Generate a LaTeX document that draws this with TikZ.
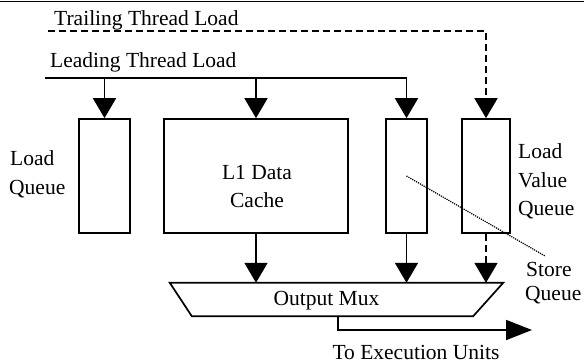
\documentclass[tikz,border=0pt]{standalone}
\usepackage{fontspec}
\setmainfont{Liberation Serif}
\usetikzlibrary{arrows.meta}
\tikzset{
  unitbox/.style={draw,line width=1.7pt,inner sep=0pt,minimum height=114pt},
  lbl/.style={inner sep=0pt,font=\fontsize{21.5}{26}\selectfont},
  conn/.style={line width=1.8pt},
  arr/.style={conn,-{Triangle[width=23pt,length=20pt]}},
  dsh/.style={dash pattern=on 7pt off 4pt},
}
\begin{document}
\begin{tikzpicture}[x=1pt,y=-1pt]
\useasboundingbox (0,0) rectangle (584,364);
% top rule
\coordinate (ruleL) at (0,1.5);
\coordinate (ruleR) at (584,1.5);
\draw[line width=1.8pt] (ruleL) -- (ruleR);
% boxes
\node[unitbox,minimum width=51pt] (lq) at (104.5,176) {};
\node[unitbox,minimum width=184pt] (l1) at (256,176) {};
\node[unitbox,minimum width=41pt] (sq) at (406.5,176) {};
\node[unitbox,minimum width=48pt] (lvq) at (486,176) {};
% mux
\node[inner sep=0pt,minimum width=333pt,minimum height=33pt] (mux) at (336.5,299.5) {};
\draw[line width=1.7pt] (mux.north west) -- (mux.north east)
  -- ([xshift=-30pt]mux.south east) -- ([xshift=22pt]mux.south west) -- cycle;
\node[lbl,anchor=base] (muxlbl) at (326.5,305) {Output Mux};
% labels
\node[lbl,anchor=base west] (trail) at (54,25) {Trailing Thread Load};
\node[lbl,anchor=base west] (lead) at (50,67) {Leading Thread Load};
\node[lbl,anchor=base west] (lqa) at (10,165) {Load};
\node[lbl,anchor=base west] (lqb) at (9,194) {Queue};
\node[lbl,anchor=base] (l1a) at (257,179) {L1 Data};
\node[lbl,anchor=base] (l1b) at (257,207) {Cache};
\node[lbl,anchor=base west] (lvqa) at (518,158) {Load};
\node[lbl,anchor=base west] (lvqb) at (518,187) {Value};
\node[lbl,anchor=base west] (lvqc) at (518,215) {Queue};
\node[lbl,anchor=base west] (sqa) at (526,276) {Store};
\node[lbl,anchor=base west] (sqb) at (525,300) {Queue};
\node[lbl,anchor=base] (exe) at (416,359) {To Execution Units};
% leading thread load
\coordinate (leadL) at (45,78);
\draw[arr] (leadL) -| (sq.north);
\draw[arr] (lq.north |- leadL) -- (lq.north);
\draw[arr] (l1.north |- leadL) -- (l1.north);
% trailing thread load
\coordinate (trailL) at (48,31);
\draw[arr,dsh] (trailL) -| (lvq.north);
% to mux
\draw[arr] (l1.south) -- (l1.south |- mux.north);
\draw[arr] (sq.south) -- (sq.south |- mux.north);
\draw[arr,dsh] (lvq.south) -- (lvq.south |- mux.north);
% output
\coordinate (exec) at (532,330);
\draw[conn,-{Triangle[width=20pt,length=26pt]}] ([xshift=1.5pt]mux.south) |- (exec);
% store queue pointer
\coordinate (sqptr) at (545,256);
\draw[line width=1.2pt,dash pattern=on 1.2pt off 1pt] (sq.center) -- (sqptr);
\end{tikzpicture}
\end{document}
